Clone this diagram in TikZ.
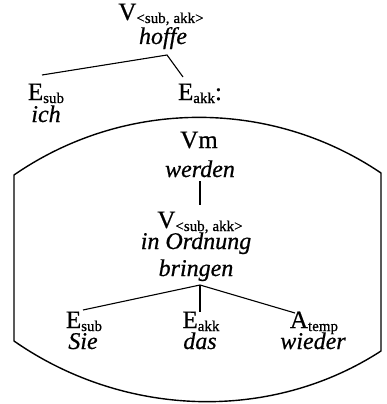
\documentclass[tikz,border=0pt]{standalone}
\usepackage{fontspec}
\setmainfont{Liberation Serif}[FakeBold=0.6]
\newcommand{\sbs}[1]{\raisebox{-3pt}{\fontsize{15}{15}\selectfont #1}}
\tikzset{
  lbl/.style={anchor=base, inner sep=0pt, font=\fontsize{25}{25}\selectfont},
  wrd/.style={anchor=base, inner sep=0pt, font=\fontsize{24}{24}\selectfont\itshape},
  edge/.style={line width=1.1pt},
  frame/.style={line width=1.4pt, line join=round}
}
\begin{document}
\begin{tikzpicture}[x=1pt,y=-1pt]
\useasboundingbox (0,0) rectangle (386,404);
% top tree
\node[lbl] (v1) at (161,20) {V\sbs{<sub,\hspace{4pt}akk>}};
\node[wrd] (hoffe) at (163,44) {hoffe};
\node[lbl] (esub1) at (46,100) {E\sbs{sub}};
\node[wrd] (ich) at (46,122) {ich};
\node[lbl] (eakk1) at (200,100) {E\sbs{akk}:};
\draw[edge] ([shift={(-4,-25)}]esub1.base) -- ([shift={(4,11)}]hoffe.base) -- ([shift={(-17,-23)}]eakk1.base);
% frame
\draw[frame] (14,341) -- (14,175) .. controls (124,99) and (270,98) .. (381,173) -- (381,351)
  .. controls (270,423) and (123,417) .. cycle;
% inner tree
\node[lbl] (vm) at (199,148) {Vm};
\node[wrd] (werden) at (200,177) {werden};
\node[lbl] (v2) at (200,228) {V\sbs{<sub,\hspace{4pt}akk>}};
\node[wrd] (ordnung) at (196,249) {in Ordnung};
\node[wrd] (bringen) at (196,276) {bringen};
\draw[edge] ([shift={(0,4)}]werden.base) -- ([shift={(0,-23)}]v2.base);
\node[lbl] (esub2) at (84,328) {E\sbs{sub}};
\node[wrd] (sie) at (83,349) {Sie};
\node[lbl] (eakk2) at (201,328) {E\sbs{akk}};
\node[wrd] (das) at (200,349) {das};
\node[lbl] (atemp) at (314,328) {A\sbs{temp}};
\node[wrd] (wieder) at (313,349) {wieder};
\coordinate (apex) at ([shift={(4,9)}]bringen.base);
\draw[edge] (apex) -- ([shift={(-1,-18)}]esub2.base);
\draw[edge] (apex) -- ([shift={(-1,-16)}]eakk2.base);
\draw[edge] (apex) -- ([shift={(-19,-15)}]atemp.base);
\end{tikzpicture}
\end{document}
